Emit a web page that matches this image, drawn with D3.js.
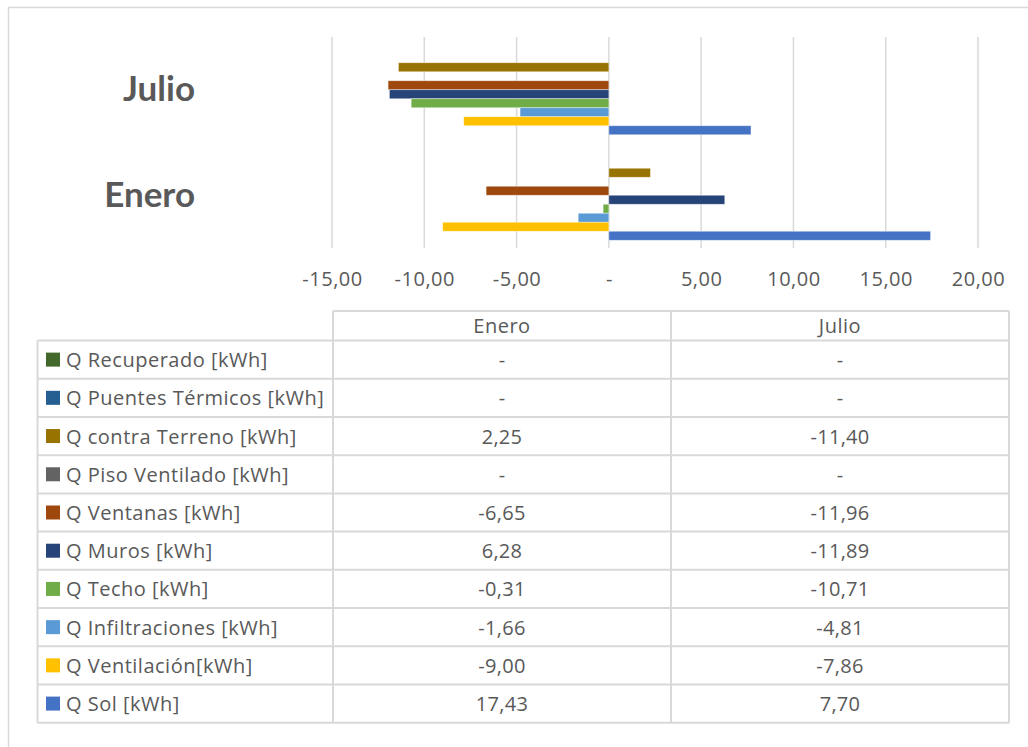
<!DOCTYPE html>
<html><head><meta charset="utf-8">
<script src="https://cdn.jsdelivr.net/npm/d3@7"></script>
<style>
html,body{margin:0;padding:0;background:#fff;}
svg{display:block;}
text{font-family:"Open Sans","Noto Sans",sans-serif;fill:#595959;}
</style></head>
<body>
<svg id="chart" width="1028" height="747"></svg>
<script>
const categories = ["Julio", "Enero"];
const seriesNames = [
  "Q Recuperado [kWh]",
  "Q Puentes Térmicos [kWh]",
  "Q contra Terreno [kWh]",
  "Q Piso Ventilado [kWh]",
  "Q Ventanas [kWh]",
  "Q Muros [kWh]",
  "Q Techo [kWh]",
  "Q Infiltraciones [kWh]",
  "Q Ventilación[kWh]",
  "Q Sol [kWh]"
];
const seriesColors = ["#43682B","#255E91","#997300","#636363","#9E480E","#264478","#70AD47","#5B9BD5","#FFC000","#4472C4"];
const eneroValues = [0, 0, 2.25, 0, -6.65, 6.28, -0.31, -1.66, -9.00, 17.43];
const julioValues = [0, 0, -11.40, 0, -11.96, -11.89, -10.71, -4.81, -7.86, 7.70];
const tickValues = [-15, -10, -5, 0, 5, 10, 15, 20];
const tableColumns = ["Enero", "Julio"];

const valuesByCat = {Enero: eneroValues, Julio: julioValues};
const fmt = v => v === 0 ? "-" : d3.format(".2f")(v).replace(".", ",").replace("−","-");

const svg = d3.select("#chart");
const gray = "#d9d9d9";

// outer border
svg.append("rect").attr("x", 8.5).attr("y", 7.5).attr("width", 1100).attr("height", 800)
  .attr("fill", "none").attr("stroke", gray).attr("stroke-width", 1.5);

const x = d3.scaleLinear().domain([-15, 20]).range([332, 978]);
const y = d3.scaleBand().domain(categories).range([37, 248]).paddingInner(0.147).paddingOuter(0.0735);
const ys = d3.scaleBand().domain(seriesNames).range([0, y.bandwidth()]);

// gridlines
svg.append("g").selectAll("line").data(tickValues).join("line")
  .attr("x1", d => x(d)).attr("x2", d => x(d)).attr("y1", 37).attr("y2", 248)
  .attr("stroke", gray).attr("stroke-width", 1.5);

// bars
const g = svg.append("g");
categories.forEach(cat => {
  const vals = valuesByCat[cat];
  g.append("g").selectAll("rect").data(seriesNames.map((s, i) => ({s, v: vals[i], c: seriesColors[i]})))
    .join("rect")
    .attr("x", d => x(Math.min(0, d.v)))
    .attr("width", d => Math.abs(x(d.v) - x(0)))
    .attr("y", d => y(cat) + ys(d.s))
    .attr("height", ys.bandwidth())
    .attr("fill", d => d.c)
    .attr("stroke", "#ffffff").attr("stroke-opacity", 0.5).attr("stroke-width", 0.75);
});

// category labels
svg.append("g").selectAll("text").data(categories).join("text")
  .attr("x", 195).attr("y", d => y(d) + y.bandwidth() / 2 - 2.5)
  .attr("text-anchor", "end").attr("dominant-baseline", "central")
  .style("font-family", "Lato, 'Open Sans', sans-serif")
  .style("font-weight", "bold").style("font-size", "35px")
  .text(d => d);

// axis labels
const axis = d3.axisBottom(x).tickValues(tickValues).tickSize(0).tickFormat(fmt);
const ag = svg.append("g").attr("transform", "translate(0,269)").call(axis);
ag.select(".domain").remove();
ag.selectAll("text").style("font-size", "20px").style("letter-spacing", "0.5px").attr("fill", "#595959")
  .style("font-family", "'Open Sans', sans-serif");

// data table
const colX = [333, 671, 1009];
const tableTop = 311, headerBottom = 340.5, rowH = 38.22;
const labelLeft = 37.5;
const tg = svg.append("g");
const tableBottom = headerBottom + rowH * seriesNames.length;

tg.append("line").attr("x1", colX[0]).attr("x2", colX[2]).attr("y1", tableTop).attr("y2", tableTop);
colX.forEach(cx => tg.append("line").attr("x1", cx).attr("x2", cx).attr("y1", tableTop).attr("y2", tableBottom));
tg.append("line").attr("x1", labelLeft).attr("x2", labelLeft).attr("y1", headerBottom).attr("y2", tableBottom);
d3.range(seriesNames.length + 1).forEach(i => {
  const yy = headerBottom + i * rowH;
  tg.append("line").attr("x1", labelLeft).attr("x2", colX[2]).attr("y1", yy).attr("y2", yy);
});
tg.selectAll("line").attr("stroke", gray).attr("stroke-width", 2);

// header text
tg.append("g").selectAll("text").data(tableColumns).join("text")
  .attr("x", (d, i) => (colX[i] + colX[i + 1]) / 2)
  .attr("y", (tableTop + headerBottom) / 2)
  .attr("text-anchor", "middle").attr("dominant-baseline", "central")
  .style("font-size", "20px").style("letter-spacing", "0.5px").text(d => d);

// row labels with legend keys
const rows = tg.append("g").selectAll("g").data(seriesNames).join("g")
  .attr("transform", (d, i) => `translate(0,${headerBottom + i * rowH + rowH / 2})`);
rows.append("rect").attr("x", 46).attr("y", -7).attr("width", 14).attr("height", 14)
  .attr("fill", (d, i) => seriesColors[i]);
rows.append("text").attr("x", 66).attr("y", 0).attr("dominant-baseline", "central")
  .style("font-size", "20px").style("letter-spacing", "0.5px").text(d => d);
rows.each(function(d, i) {
  const r = d3.select(this);
  tableColumns.forEach((c, j) => {
    r.append("text").attr("x", (colX[j] + colX[j + 1]) / 2).attr("y", 0)
      .attr("text-anchor", "middle").attr("dominant-baseline", "central")
      .style("font-size", "20px").style("letter-spacing", "0.3px").text(fmt(valuesByCat[c][i]));
  });
});
</script>
</body></html>
